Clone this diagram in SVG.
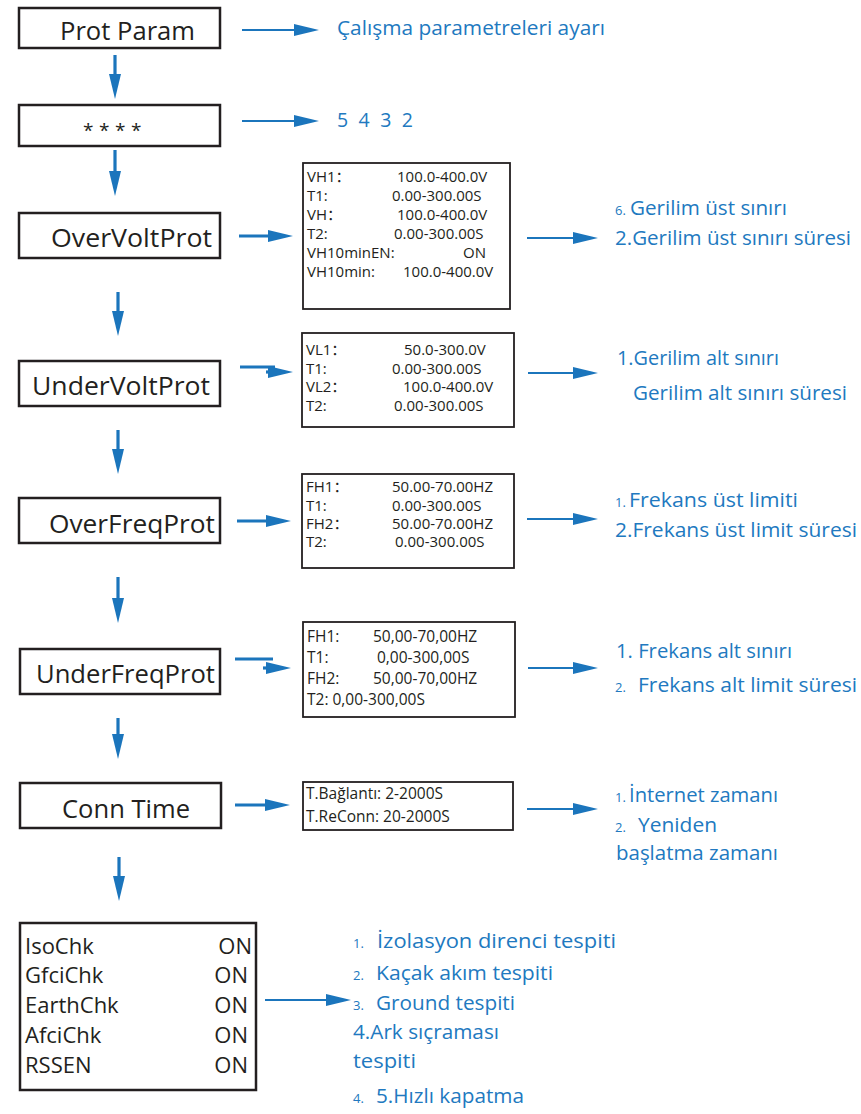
<svg xmlns="http://www.w3.org/2000/svg" width="861" height="1114" viewBox="0 0 861 1114">
  <style>
    .box { fill: #ffffff; stroke: #231f20; stroke-width: 2.5; }
    .pbox { fill: #ffffff; stroke: #231f20; stroke-width: 1.8; }
    .title { font-family: "Open Sans", "Noto Sans", sans-serif; font-size: 25px; fill: #231f20; }
    .param { font-family: "Open Sans", "Noto Sans", "Noto Sans CJK SC", sans-serif; font-size: 15px; fill: #231f20; }
    .param2 { font-family: "Open Sans", "Noto Sans", "Noto Sans CJK SC", sans-serif; font-size: 15.5px; fill: #231f20; }
    .chk { font-family: "Open Sans", "Noto Sans", sans-serif; font-size: 22px; fill: #231f20; }
    .note { font-family: "Open Sans", "Noto Sans", sans-serif; font-size: 19.5px; fill: #2179c0; }
    .num { font-family: "Open Sans", "Noto Sans", sans-serif; font-size: 13px; fill: #2179c0; }
    .stars { font-family: "Open Sans", "Noto Sans", sans-serif; font-size: 19px; fill: #231f20; }
    .thick { stroke: #1b75bc; stroke-width: 3.2; fill: none; marker-end: url(#head); }
    .thin { stroke: #1b75bc; stroke-width: 2; fill: none; marker-end: url(#head); }
  </style>
  <defs>
    <marker id="head" markerUnits="userSpaceOnUse" markerWidth="26" markerHeight="12" refX="12" refY="6" orient="auto">
      <path d="M0,0 L25,6 L0,12 z" fill="#1b75bc"/>
    </marker>
  </defs>

  <!-- connectors -->
  <g id="connectors">
    <!-- vertical flow -->
    <line class="thick" x1="115" y1="55" x2="115" y2="86"/>
    <line class="thick" x1="115" y1="150" x2="115" y2="183"/>
    <line class="thick" x1="118" y1="292" x2="118" y2="323"/>
    <line class="thick" x1="118" y1="430" x2="118" y2="461"/>
    <line class="thick" x1="118" y1="577" x2="118" y2="610"/>
    <line class="thick" x1="118" y1="718" x2="118" y2="746"/>
    <line class="thick" x1="119" y1="857" x2="119" y2="888"/>
    <!-- menu to description / parameter box -->
    <line class="thin" x1="242" y1="30" x2="306" y2="30"/>
    <line class="thin" x1="242" y1="121" x2="306" y2="121"/>
    <line class="thick" x1="239" y1="236" x2="280" y2="236"/>
    <line stroke="#1b75bc" stroke-width="3.2" x1="240" y1="367" x2="275" y2="367"/>
    <line class="thick" x1="266" y1="372" x2="280" y2="372"/>
    <line class="thick" x1="237" y1="521" x2="278" y2="521"/>
    <line stroke="#1b75bc" stroke-width="3.2" x1="235" y1="659" x2="273" y2="659"/>
    <line class="thick" x1="263" y1="668" x2="278" y2="668"/>
    <line class="thick" x1="235" y1="805" x2="277" y2="805"/>
    <!-- parameter box to description -->
    <line class="thin" x1="527" y1="238" x2="585" y2="238"/>
    <line class="thin" x1="528" y1="373" x2="585" y2="373"/>
    <line class="thin" x1="527" y1="519" x2="585" y2="519"/>
    <line class="thin" x1="528" y1="668" x2="585" y2="668"/>
    <line class="thin" x1="527" y1="809" x2="585" y2="809"/>
    <line class="thin" x1="265" y1="1000" x2="338" y2="1000"/>
  </g>

  <g id="prot-param">
    <rect class="box" x="19" y="8" width="201" height="40"/>
    <text class="title" x="60" y="40" textLength="135" lengthAdjust="spacingAndGlyphs">Prot Param</text>
    <text class="note" x="337" y="35" textLength="268" lengthAdjust="spacingAndGlyphs">Çalışma parametreleri ayarı</text>
  </g>

  <g id="password">
    <rect class="box" x="19" y="105" width="201" height="41"/>
    <text class="stars" x="83 99 115 131" y="137">****</text>
    <text class="note" x="337" y="127" textLength="76" lengthAdjust="spacing">5 4 3 2</text>
  </g>

  <g id="over-volt">
    <rect class="box" x="19" y="213" width="201" height="45"/>
    <text class="title" x="51" y="247" textLength="161" lengthAdjust="spacingAndGlyphs">OverVoltProt</text>
    <rect class="pbox" x="303" y="163" width="207" height="146"/>
    <g class="param">
      <text x="307" y="182">VH1：</text><text x="397" y="182">100.0-400.0V</text>
      <text x="307" y="201">T1:</text><text x="392" y="201">0.00-300.00S</text>
      <text x="307" y="220">VH：</text><text x="397" y="220">100.0-400.0V</text>
      <text x="307" y="239">T2:</text><text x="394" y="239">0.00-300.00S</text>
      <text x="307" y="258">VH10minEN:</text><text x="463" y="258">ON</text>
      <text x="307" y="277">VH10min:</text><text x="403" y="277">100.0-400.0V</text>
    </g>
    <text class="note" x="615" y="215"><tspan class="num">6.</tspan><tspan x="630" textLength="157" lengthAdjust="spacingAndGlyphs">Gerilim üst sınırı</tspan></text>
    <text class="note" x="615" y="245" textLength="236" lengthAdjust="spacingAndGlyphs">2.Gerilim üst sınırı süresi</text>
  </g>

  <g id="under-volt">
    <rect class="box" x="19" y="361" width="201" height="45"/>
    <text class="title" x="32" y="395" textLength="178" lengthAdjust="spacingAndGlyphs">UnderVoltProt</text>
    <rect class="pbox" x="302" y="333" width="212" height="94"/>
    <g class="param">
      <text x="306" y="355">VL1：</text><text x="404" y="355">50.0-300.0V</text>
      <text x="306" y="374">T1:</text><text x="392" y="374">0.00-300.00S</text>
      <text x="306" y="392">VL2：</text><text x="403" y="392">100.0-400.0V</text>
      <text x="306" y="411">T2:</text><text x="394" y="411">0.00-300.00S</text>
    </g>
    <text class="note" x="617" y="365" textLength="162" lengthAdjust="spacingAndGlyphs">1.Gerilim alt sınırı</text>
    <text class="note" x="633" y="400" textLength="214" lengthAdjust="spacingAndGlyphs">Gerilim alt sınırı süresi</text>
  </g>

  <g id="over-freq">
    <rect class="box" x="19" y="498" width="201" height="45"/>
    <text class="title" x="49" y="533" textLength="166" lengthAdjust="spacingAndGlyphs">OverFreqProt</text>
    <rect class="pbox" x="302" y="474" width="212" height="94"/>
    <g class="param">
      <text x="306" y="492">FH1：</text><text x="392" y="492">50.00-70.00HZ</text>
      <text x="306" y="511">T1:</text><text x="392" y="511">0.00-300.00S</text>
      <text x="306" y="529">FH2：</text><text x="392" y="529">50.00-70.00HZ</text>
      <text x="306" y="547">T2:</text><text x="395" y="547">0.00-300.00S</text>
    </g>
    <text class="note" x="615" y="507"><tspan class="num">1.</tspan><tspan x="629" textLength="169" lengthAdjust="spacingAndGlyphs">Frekans üst limiti</tspan></text>
    <text class="note" x="615" y="537" textLength="242" lengthAdjust="spacingAndGlyphs">2.Frekans üst limit süresi</text>
  </g>

  <g id="under-freq">
    <rect class="box" x="20" y="649" width="200" height="45"/>
    <text class="title" x="36" y="683" textLength="179" lengthAdjust="spacingAndGlyphs">UnderFreqProt</text>
    <rect class="pbox" x="303" y="622" width="212" height="95"/>
    <g class="param2">
      <text x="307" y="642">FH1:</text><text x="373" y="642">50,00-70,00HZ</text>
      <text x="307" y="663">T1:</text><text x="377" y="663">0,00-300,00S</text>
      <text x="307" y="684">FH2:</text><text x="373" y="684">50,00-70,00HZ</text>
      <text x="307" y="705">T2: 0,00-300,00S</text>
    </g>
    <text class="note" x="616" y="658" textLength="176" lengthAdjust="spacingAndGlyphs">1. Frekans alt sınırı</text>
    <text class="note" x="615" y="692"><tspan class="num">2.</tspan><tspan x="638" textLength="219" lengthAdjust="spacingAndGlyphs">Frekans alt limit süresi</tspan></text>
  </g>

  <g id="conn-time">
    <rect class="box" x="20" y="783" width="201" height="45"/>
    <text class="title" x="62" y="818" textLength="128" lengthAdjust="spacingAndGlyphs">Conn Time</text>
    <rect class="pbox" x="303" y="782" width="210" height="48"/>
    <g class="param2">
      <text x="306" y="799">T.Bağlantı: 2-2000S</text>
      <text x="306" y="822">T.ReConn: 20-2000S</text>
    </g>
    <text class="note" x="615" y="802"><tspan class="num">1.</tspan><tspan x="629" textLength="149" lengthAdjust="spacingAndGlyphs">İnternet zamanı</tspan></text>
    <text class="note" x="615" y="832"><tspan class="num">2.</tspan><tspan x="638" textLength="79" lengthAdjust="spacingAndGlyphs">Yeniden</tspan></text>
    <text class="note" x="616" y="860" textLength="162" lengthAdjust="spacingAndGlyphs">başlatma zamanı</text>
  </g>

  <g id="checks">
    <rect class="box" x="20" y="923" width="236" height="167"/>
    <g class="chk">
      <text x="25" y="954">IsoChk</text><text x="252" y="954" text-anchor="end">ON</text>
      <text x="25" y="983">GfciChk</text><text x="248" y="983" text-anchor="end">ON</text>
      <text x="25" y="1013">EarthChk</text><text x="248" y="1013" text-anchor="end">ON</text>
      <text x="25" y="1043">AfciChk</text><text x="248" y="1043" text-anchor="end">ON</text>
      <text x="25" y="1073">RSSEN</text><text x="248" y="1073" text-anchor="end">ON</text>
    </g>
    <text class="note" x="353" y="948"><tspan class="num">1.</tspan><tspan x="377" textLength="239" lengthAdjust="spacingAndGlyphs">İzolasyon  direnci  tespiti</tspan></text>
    <text class="note" x="353" y="980"><tspan class="num">2.</tspan><tspan x="376" textLength="177" lengthAdjust="spacingAndGlyphs">Kaçak akım tespiti</tspan></text>
    <text class="note" x="353" y="1010"><tspan class="num">3.</tspan><tspan x="376" textLength="139" lengthAdjust="spacingAndGlyphs">Ground tespiti</tspan></text>
    <text class="note" x="353" y="1039" textLength="146" lengthAdjust="spacingAndGlyphs">4.Ark sıçraması</text>
    <text class="note" x="353" y="1068" textLength="63" lengthAdjust="spacingAndGlyphs">tespiti</text>
    <text class="note" x="353" y="1103"><tspan class="num">4.</tspan><tspan x="376" textLength="148" lengthAdjust="spacingAndGlyphs">5.Hızlı kapatma</tspan></text>
  </g>
</svg>
